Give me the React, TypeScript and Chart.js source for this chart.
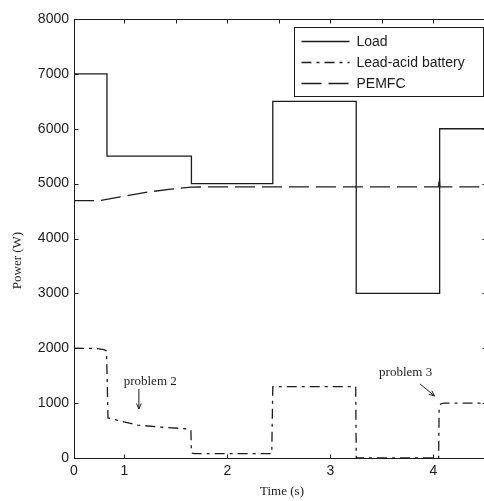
import React, { useEffect, useRef } from 'react';
import { Chart, registerables } from 'chart.js';

Chart.register(...registerables);

// ---- data (time in s, power in W) ----
const loadTime = [0.51, 0.83, 1.65, 2.44, 3.25, 4.06, 4.51];
const loadPower = [7000, 5500, 5000, 6500, 3000, 6000, 6000];

const batteryTime = [0.51, 0.72, 0.8, 0.825, 0.83, 0.84, 0.96, 1.13, 1.34, 1.62, 1.645, 1.65, 1.68, 2.43, 2.44, 3.245, 3.25, 4.05, 4.055, 4.07, 4.1, 4.51];
const batteryPower = [2000, 1995, 1975, 1950, 1600, 730, 675, 600, 565, 530, 500, 90, 80, 80, 1300, 1300, 0, 0, 900, 985, 1000, 1000];

const pemfcTime = [0.51, 0.76, 0.96, 1.22, 1.45, 1.65, 1.8, 4.05, 4.056, 4.062, 4.51];
const pemfcPower = [4690, 4690, 4760, 4845, 4900, 4935, 4940, 4940, 5120, 4940, 4940];

const seriesNames = ['Load', 'Lead-acid battery', 'PEMFC'];

const xMin = 0.51;
const xMax = 4.51;
const xTickValues = [0.51, 1, 2, 3, 4];
const xTickLabels = ['0', '1', '2', '3', '4'];
const xTopTickValues = [1, 1.5, 2, 2.5, 3, 3.5, 4];
const yMin = 0;
const yMax = 8000;
const yStep = 1000;

const xTitle = 'Time (s)';
const yTitle = 'Power (W)';

const noteTexts = ['problem 2', 'problem 3'];
const noteTextT = [1.25, 3.73];
const noteTextP = [1385, 1549];
const arrowFromT = [1.14, 3.87];
const arrowFromP = [1257, 1349];
const arrowToT = [1.14, 4.01];
const arrowToP = [893, 1130];

const SANS = "'Liberation Sans', Arial, sans-serif";
const SERIF = "'Liberation Serif', 'Times New Roman', serif";
const INK = '#1c1c1c';

const matlabPlugin = {
  id: 'matlabDecor',
  afterDatasetsDraw(chart: any) {
    const { ctx, chartArea: a, scales } = chart;
    const xs = scales.x;
    const ys = scales.y;
    const L = Math.round(a.left) + 0.5;
    const R = Math.round(a.right) + 0.5;
    const T = Math.round(a.top) + 0.5;
    const B = Math.round(a.bottom) + 0.5;
    ctx.save();
    ctx.strokeStyle = INK;
    ctx.lineWidth = 1;
    ctx.setLineDash([]);
    // frame
    ctx.strokeRect(L, T, R - L, B - T);
    // inward ticks
    const tl = 4;
    ctx.beginPath();
    for (let v = yMin; v <= yMax; v += yStep) {
      const y = Math.round(ys.getPixelForValue(v)) + 0.5;
      ctx.moveTo(L, y); ctx.lineTo(L + tl, y);
      ctx.moveTo(R, y); ctx.lineTo(R - tl, y);
    }
    xTickValues.slice(1).forEach((v) => {
      const x = Math.round(xs.getPixelForValue(v)) + 0.5;
      ctx.moveTo(x, B); ctx.lineTo(x, B - tl);
    });
    xTopTickValues.forEach((v) => {
      const x = Math.round(xs.getPixelForValue(v)) + 0.5;
      ctx.moveTo(x, T); ctx.lineTo(x, T + tl);
    });
    ctx.stroke();

    // annotations
    ctx.fillStyle = INK;
    ctx.font = `13px ${SERIF}`;
    ctx.textAlign = 'center';
    ctx.textBaseline = 'middle';
    noteTexts.forEach((t, i) => {
      ctx.fillText(t, xs.getPixelForValue(noteTextT[i]), ys.getPixelForValue(noteTextP[i]));
      const x0 = xs.getPixelForValue(arrowFromT[i]);
      const y0 = ys.getPixelForValue(arrowFromP[i]);
      const x1 = xs.getPixelForValue(arrowToT[i]);
      const y1 = ys.getPixelForValue(arrowToP[i]);
      ctx.beginPath();
      ctx.moveTo(x0, y0);
      ctx.lineTo(x1, y1);
      const ang = Math.atan2(y1 - y0, x1 - x0);
      const hl = 6;
      ctx.moveTo(x1, y1);
      ctx.lineTo(x1 - hl * Math.cos(ang - 0.4), y1 - hl * Math.sin(ang - 0.4));
      ctx.moveTo(x1, y1);
      ctx.lineTo(x1 - hl * Math.cos(ang + 0.4), y1 - hl * Math.sin(ang + 0.4));
      ctx.stroke();
    });

    // legend box
    const bw = 189;
    const bh = 69;
    const bx = Math.round(a.right - 192.5) + 0.5;
    const by = Math.round(a.top + 8) + 0.5;
    ctx.fillStyle = '#ffffff';
    ctx.fillRect(bx, by, bw, bh);
    ctx.strokeStyle = INK;
    ctx.strokeRect(bx, by, bw, bh);
    ctx.font = `14px ${SANS}`;
    ctx.textAlign = 'left';
    ctx.textBaseline = 'middle';
    chart.data.datasets.forEach((ds: any, i: number) => {
      const y = Math.round(by + 13.5 + i * 21) + 0.5;
      ctx.save();
      ctx.strokeStyle = ds.borderColor;
      ctx.lineWidth = ds.borderWidth;
      ctx.setLineDash(ds.borderDash || []);
      ctx.beginPath();
      ctx.moveTo(bx + 7, y);
      ctx.lineTo(bx + 55, y);
      ctx.stroke();
      ctx.restore();
      ctx.fillStyle = INK;
      ctx.fillText(ds.label, bx + 62, y + 1);
    });

    // axis titles
    ctx.fillStyle = INK;
    ctx.font = `13px ${SERIF}`;
    ctx.textAlign = 'center';
    ctx.textBaseline = 'middle';
    ctx.fillText(xTitle, (a.left + a.right) / 2 + 2, a.bottom + 34);
    ctx.save();
    ctx.translate(18, (a.top + a.bottom) / 2 + 22);
    ctx.rotate(-Math.PI / 2);
    ctx.fillText(yTitle, 0, 0);
    ctx.restore();
    ctx.restore();
  },
};

export default function App() {
  const ref = useRef<HTMLCanvasElement | null>(null);

  useEffect(() => {
    if (!ref.current) return;
    const mk = (t: number[], p: number[]) => t.map((x, i) => ({ x, y: p[i] }));
    const chart = new Chart(ref.current, {
      type: 'line',
      data: {
        datasets: [
          {
            label: seriesNames[0],
            data: mk(loadTime, loadPower),
            borderColor: INK,
            borderWidth: 1.3,
            stepped: true,
            pointRadius: 0,
            fill: false,
          },
          {
            label: seriesNames[1],
            data: mk(batteryTime, batteryPower),
            borderColor: INK,
            borderWidth: 1.3,
            borderDash: [10, 5, 3, 5],
            pointRadius: 0,
            tension: 0,
            fill: false,
          },
          {
            label: seriesNames[2],
            data: mk(pemfcTime, pemfcPower),
            borderColor: INK,
            borderWidth: 1.3,
            borderDash: [20, 7],
            pointRadius: 0,
            tension: 0,
            fill: false,
          },
        ],
      },
      options: {
        animation: false,
        responsive: false,
        maintainAspectRatio: false,
        layout: { padding: { top: 19, right: 5, left: 0, bottom: 0 } },
        plugins: {
          legend: { display: false },
          tooltip: { enabled: false },
        },
        scales: {
          x: {
            type: 'linear',
            min: xMin,
            max: xMax,
            grid: { display: false, drawTicks: false },
            border: { display: false },
            afterBuildTicks: (s: any) => {
              s.ticks = xTickValues.map((v) => ({ value: v }));
            },
            afterFit: (s: any) => {
              s.height = 43;
            },
            ticks: {
              autoSkip: false,
              maxRotation: 0,
              padding: 5,
              color: INK,
              font: { family: SANS, size: 14 },
              callback: (_v: any, i: number) => xTickLabels[i],
            },
          },
          y: {
            type: 'linear',
            min: yMin,
            max: yMax,
            grid: { display: false, drawTicks: false },
            border: { display: false },
            afterFit: (s: any) => {
              s.width = 74;
            },
            ticks: {
              stepSize: yStep,
              padding: 5,
              color: INK,
              font: { family: SANS, size: 14 },
              callback: (v: any) => String(v),
            },
          },
        },
      },
      plugins: [matlabPlugin],
    } as any);
    return () => chart.destroy();
  }, []);

  return (
    <div
      style={{
        position: 'fixed',
        left: 0,
        top: 0,
        width: 484,
        height: 501,
        overflow: 'hidden',
        background: '#fff',
      }}
    >
      <canvas ref={ref} width={491} height={501} style={{ width: 491, height: 501, display: 'block' }} />
    </div>
  );
}
